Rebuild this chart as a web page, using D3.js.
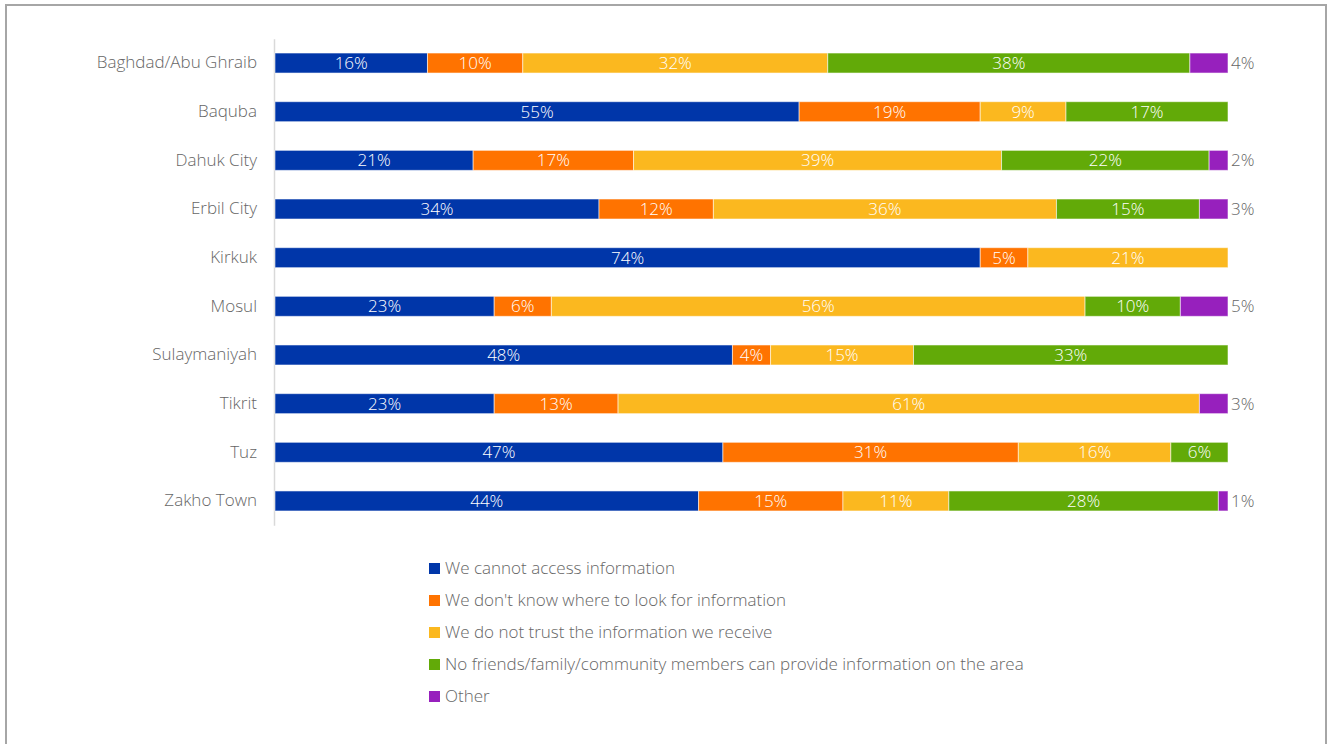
<!DOCTYPE html>
<html>
<head>
<meta charset="utf-8">
<script src="https://cdn.jsdelivr.net/npm/d3@7"></script>
<style>
  html, body { margin: 0; padding: 0; background: #fff; }
  svg { display: block; font-family: "Open Sans", "Noto Sans", sans-serif; }
</style>
</head>
<body>
<svg id="chart" width="1328" height="744"></svg>
<script>
// Reasons respondents lack information about their area of origin, by location (%)
const locations = ["Baghdad/Abu Ghraib", "Baquba", "Dahuk City", "Erbil City", "Kirkuk",
  "Mosul", "Sulaymaniyah", "Tikrit", "Tuz", "Zakho Town"];
const seriesNames = [
  "We cannot access information",
  "We don't know where to look for information",
  "We do not trust the information we receive",
  "No friends/family/community members can provide information on the area",
  "Other"
];
const cannotAccess   = [16, 55, 21, 34, 74, 23, 48, 23, 47, 44];
const dontKnowWhere  = [10, 19, 17, 12,  5,  6,  4, 13, 31, 15];
const doNotTrust     = [32,  9, 39, 36, 21, 56, 15, 61, 16, 11];
const noContacts     = [38, 17, 22, 15,  0, 10, 33,  0,  6, 28];
const other          = [ 4,  0,  2,  3,  0,  5,  0,  3,  0,  1];
const seriesColors = ["#0036A9", "#FF7300", "#FBB81F", "#62AA08", "#9720BD"];

const seriesValues = [cannotAccess, dontKnowWhere, doNotTrust, noContacts, other];
const rows = locations.map((loc, i) => {
  const r = { location: loc };
  seriesNames.forEach((s, k) => { r[s] = seriesValues[k][i]; });
  return r;
});

const textColor = "#666666";
const fontSize = 17;
const svg = d3.select("#chart");

// outer frame
svg.append("rect")
  .attr("x", 6).attr("y", 5).attr("width", 1320).attr("height", 760)
  .attr("fill", "none").attr("stroke", "#a6a6a6").attr("stroke-width", 2);

const x = d3.scaleLinear().domain([0, 1]).range([275, 1228]);
const y = d3.scaleBand().domain(locations).range([38.7, 525.3]);
const barH = 20;

const stack = d3.stack().keys(seriesNames).offset(d3.stackOffsetExpand);
const layers = stack(rows);

// category axis
const yAxis = d3.axisLeft(y).tickSize(0).tickPadding(17);
const gy = svg.append("g").attr("transform", "translate(274,0)").call(yAxis);
gy.select(".domain").attr("stroke", "#d9d9d9").attr("stroke-width", 1.5);
gy.selectAll("text")
  .attr("font-size", fontSize).attr("fill", textColor)
  .attr("font-family", "'Open Sans', sans-serif").attr("font-weight", 300);

const layerG = svg.append("g").selectAll("g")
  .data(layers).join("g")
  .attr("fill", (d, i) => seriesColors[i]);

layerG.selectAll("rect")
  .data(d => d.filter(p => p.data[d.key] > 0))
  .join("rect")
  .attr("x", d => x(d[0]))
  .attr("width", d => x(d[1]) - x(d[0]))
  .attr("y", d => y(d.data.location) + y.bandwidth() / 2 - barH / 2)
  .attr("height", barH)
  .attr("stroke", "rgba(255,255,255,0.55)")
  .attr("stroke-width", 1);

// value labels: inside the segment, except "Other" which sits past the bar end
layers.forEach((layer, k) => {
  const isOther = k === seriesNames.length - 1;
  svg.append("g").selectAll("text")
    .data(layer.filter(p => p.data[layer.key] > 0))
    .join("text")
    .attr("x", d => isOther ? x(d[1]) + 3 : (x(d[0]) + x(d[1])) / 2)
    .attr("y", d => y(d.data.location) + y.bandwidth() / 2)
    .attr("dy", "0.36em")
    .attr("text-anchor", isOther ? "start" : "middle")
    .attr("font-size", fontSize)
    .attr("font-weight", 300)
    .attr("fill", isOther ? textColor : "#ffffff")
    .text(d => d.data[layer.key] + "%");
});

// legend
const legend = svg.append("g").attr("transform", "translate(429,568)");
const li = legend.selectAll("g").data(seriesNames).join("g")
  .attr("transform", (d, i) => `translate(0,${i * 32})`);
li.append("rect")
  .attr("x", 0).attr("y", -5).attr("width", 11).attr("height", 11)
  .attr("fill", (d, i) => seriesColors[i]);
li.append("text")
  .attr("x", 16).attr("y", 0).attr("dy", "0.36em")
  .attr("font-size", fontSize).attr("font-weight", 300).attr("fill", textColor)
  .text(d => d);
</script>
</body>
</html>
